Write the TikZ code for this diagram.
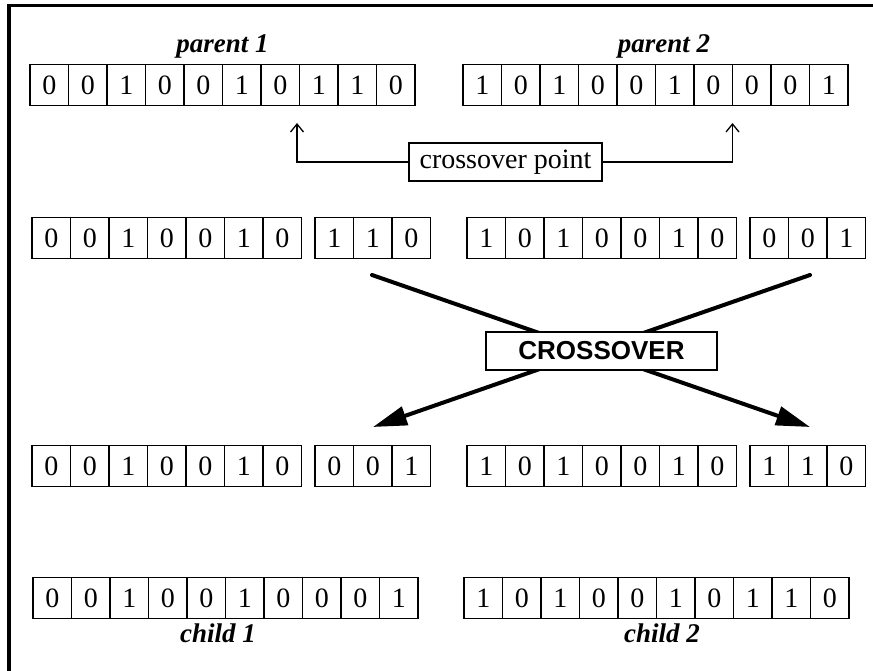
\documentclass[tikz,border=0pt]{standalone}
\usepackage{fontspec}
\setmainfont{Liberation Serif}
\newfontfamily\xofont{Liberation Sans}
\usetikzlibrary{arrows.meta,positioning}
\tikzset{
  cell/.style={draw, line width=1.2pt, minimum width=38.5pt, minimum height=41pt,
    inner sep=0pt, font=\fontsize{28}{30}\selectfont},
  lbl/.style={font=\fontsize{27}{30}\selectfont\bfseries\itshape, anchor=base},
  cptbox/.style={draw, fill=white, line width=1.2pt, minimum width=193pt,
    minimum height=38pt, inner sep=0pt, font=\fontsize{28}{30}\selectfont},
  xobox/.style={draw, fill=white, line width=2.5pt, minimum width=231pt,
    minimum height=38pt, inner sep=0pt, font=\fontsize{26}{28}\selectfont\xofont\bfseries},
  ptr/.style={line width=1.3pt, -{Straight Barb[length=8pt,width=13pt]}},
  swap/.style={line width=4pt, line cap=round, -{Triangle[length=34pt,width=19pt]}}
}
\begin{document}
\begin{tikzpicture}[x=1pt,y=-1pt]
  \useasboundingbox (0,0) rectangle (873,671);
  \draw[line width=3.5pt] (9,671) -- (9,5.5) -- (873,5.5);
  % chromosomes
  \foreach \nm/\xa/\yc/\bits in {p1/30/85/{0,0,1,0,0,1,0,1,1,0}, p2/463/85/{1,0,1,0,0,1,0,0,0,1},
      a1/32/238/{0,0,1,0,0,1,0}, a2/315/238/{1,1,0}, b1/467/238/{1,0,1,0,0,1,0}, b2/750/238/{0,0,1},
      c1/32/466/{0,0,1,0,0,1,0}, c2/315/466/{0,0,1}, d1/467/466/{1,0,1,0,0,1,0}, d2/750/466/{1,1,0},
      ch1/33/598/{0,0,1,0,0,1,0,0,0,1}, ch2/464/598/{1,0,1,0,0,1,0,1,1,0}}
    \foreach \d [count=\i] in \bits
      \node[cell] (\nm-\i) at ({\xa+(\i-0.5)*38.5},\yc) {\d};
  \node[lbl] (lp1) at (222.5,53) {parent 1};
  \node[lbl] (lp2) at (664,53) {parent 2};
  \node[lbl] (lc1) at (218,642) {child 1};
  \node[lbl] (lc2) at (662,642) {child 2};
  % crossover point
  \node[cptbox] (cpt) at (505.5,162) {crossover point};
  \coordinate (tip1) at (297,123);
  \coordinate (tip2) at (732.5,123);
  \draw[ptr] (cpt.west) -| (tip1);
  \draw[ptr] (cpt.east) -| (tip2);
  % swap arrows
  \coordinate (s1) at (372,275);
  \coordinate (s2) at (810,275);
  \coordinate (e1) at (373,427);
  \coordinate (e2) at (810,427);
  \draw[swap] (s1) -- (e2);
  \draw[swap] (s2) -- (e1);
  \node[xobox] (xo) at (601.5,351) {CROSSOVER};
\end{tikzpicture}
\end{document}
